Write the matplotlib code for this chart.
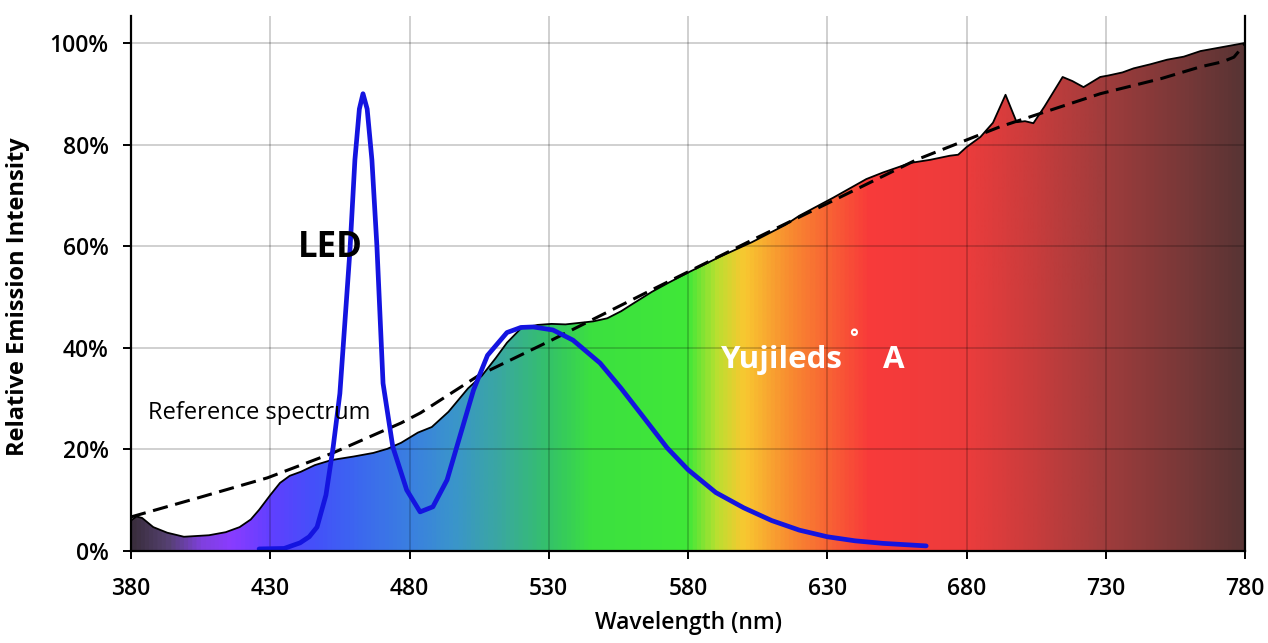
import numpy as np
import matplotlib
matplotlib.use('Agg')
import matplotlib.pyplot as plt
from matplotlib.colors import LinearSegmentedColormap
from matplotlib.patches import Polygon

plt.rcParams['font.family'] = ['Open Sans', 'DejaVu Sans']

# measured spectrum of the lamp (Yujileds A), % relative intensity
spec_nm = [380, 382, 384, 388, 393, 399, 408, 414, 419, 423, 426, 430, 433.5, 437, 441,
           446, 452, 460, 467, 472, 477, 483, 488, 494, 501, 506, 511, 515, 520, 526,
           531, 536, 541, 546, 551, 556, 560, 567, 573, 580, 591, 603, 615, 620, 632,
           644, 650, 660, 667, 674, 677, 680, 685, 689.5, 694, 698, 701, 704, 708,
           714.5, 718, 722, 728, 731, 736, 740, 746, 752, 758, 764, 770, 775, 780]
spec_pct = [6.0, 6.8, 6.5, 4.7, 3.6, 2.8, 3.1, 3.7, 4.7, 6.2, 8.1, 11.0, 13.4, 14.8, 15.6,
            16.9, 17.9, 18.6, 19.3, 20.1, 21.3, 23.3, 24.4, 27.4, 32.0, 34.5, 38.0, 41.0, 43.8, 44.5,
            44.7, 44.6, 44.9, 45.2, 45.8, 47.2, 48.6, 51.0, 52.8, 54.8, 57.8, 60.8, 64.2, 66.0, 69.5,
            73.2, 74.5, 76.4, 77.0, 77.8, 78.0, 79.5, 81.5, 84.3, 89.8, 84.4, 84.6, 84.2, 87.5,
            93.3, 92.5, 91.3, 93.3, 93.6, 94.2, 95.0, 95.8, 96.7, 97.3, 98.4, 99.0, 99.5, 100.0]

# reference spectrum (dashed)
ref_nm = [380, 405, 429, 452.5, 477, 484, 505, 531, 567, 603, 630, 662, 692, 728,
          750, 764, 772, 776, 778, 780]
ref_pct = [6.7, 10.6, 14.4, 19.3, 25.2, 27.2, 34.6, 41.5, 51.4, 61.2, 68.4, 77.0, 83.5, 90.0,
           93.0, 95.3, 96.3, 97.2, 98.5, 99.8]

# typical white LED spectrum
led_nm = [426, 435, 440.7, 444, 446.8, 450, 452.6, 455, 458.6, 460.4, 462, 463.3, 464.8,
          466.5, 468.3, 470.5, 474, 479, 483.8, 488.4, 493.5, 498, 503, 508, 515, 520,
          524.4, 531.5, 538.7, 548.4, 556, 562.8, 572.5, 580, 590, 600, 610, 620, 630,
          640, 650, 665.5]
led_pct = [0.4, 0.5, 1.6, 2.8, 4.7, 11.0, 20.5, 31, 59, 77, 87, 90, 87,
           77, 60, 33, 20.5, 12, 7.7, 8.7, 14, 22.4, 31.7, 38.5, 43, 44,
           44.1, 43.5, 41.5, 37, 32, 27.2, 20.3, 16, 11.5, 8.5, 6, 4.1, 2.8,
           2.0, 1.5, 1.0]

x_ticks = [380, 430, 480, 530, 580, 630, 680, 730, 780]
y_ticks = [0, 20, 40, 60, 80, 100]

# rainbow used for the fill
stops = [(380, '#3a2e3e'), (392, '#54406e'), (405, '#8040e0'), (415, '#8a3cff'),
         (430, '#6040ff'), (445, '#4450fa'), (460, '#3c66f0'), (480, '#3a80e0'),
         (495, '#3a94cc'), (512, '#3aa8a0'), (530, '#34c268'), (545, '#3ce040'),
         (580, '#40e838'), (590, '#b8e030'), (600, '#f8c830'), (615, '#f89030'),
         (630, '#f86434'), (645, '#f83a3a'), (680, '#ec3c3c'), (705, '#c83c3c'),
         (730, '#a03c3c'), (760, '#763838'), (780, '#583434')]
cmap = LinearSegmentedColormap.from_list(
    'spec', [((w - 380) / 400, c) for w, c in stops])

fig = plt.figure(figsize=(12.68, 6.43), dpi=100)
ax = fig.add_axes([0.1033, 0.1431, 0.8786, 0.832])

verts = list(zip(spec_nm, spec_pct)) + [(780, 0), (380, 0)]
patch = Polygon(verts, closed=True, facecolor='none', edgecolor='none')
ax.add_patch(patch)
grad = np.linspace(0, 1, 800).reshape(1, -1)
im = ax.imshow(grad, extent=[380, 780, 0, 105], aspect='auto', cmap=cmap,
               origin='lower', zorder=1)
im.set_clip_path(patch)

ax.plot(spec_nm, spec_pct, color='black', lw=1.3, zorder=3)
ax.plot(ref_nm, ref_pct, color='black', lw=2.2, ls=(0, (5, 2.5)), zorder=4)
ax.plot(led_nm, led_pct, color='#1414e0', lw=3.4, zorder=5,
        solid_capstyle='round', solid_joinstyle='round')

ax.set_xlim(380, 780)
ax.set_ylim(0, 105.3)
ax.set_xticks(x_ticks)
ax.set_yticks(y_ticks)
ax.set_yticklabels([f'{v}%' for v in y_ticks])
ax.grid(True, color='black', alpha=0.2, lw=1.3)
ax.set_axisbelow(False)

for s in ['left', 'bottom', 'right']:
    ax.spines[s].set_linewidth(1.6)
    ax.spines[s].set_zorder(6)
ax.spines['top'].set_visible(False)
ax.tick_params(direction='out', length=6, width=1.4, labelsize=16.5)
ax.tick_params(axis='x', pad=13)
ax.tick_params(axis='y', pad=10)
for lab in ax.get_xticklabels() + ax.get_yticklabels():
    lab.set_fontweight('semibold')

ax.set_xlabel('Wavelength (nm)', fontsize=16.5, fontweight='semibold', labelpad=7)
ax.set_ylabel('Relative Emission Intensity', fontsize=17, fontweight='bold')
ax.yaxis.set_label_coords(-0.0905, 0.475)

ax.text(451.5, 59.6, 'LED', fontsize=25, fontweight='bold', ha='center', va='center',
        zorder=7)
ax.text(386, 27.2, 'Reference spectrum', fontsize=17, ha='left', va='center', zorder=7)
ax.text(591.5, 37.6, 'Yujileds', fontsize=22.5, fontweight='bold', color='white',
        ha='left', va='center', zorder=7)
ax.text(637.8, 41.8, '\u00b0', fontsize=15, fontweight='bold', color='white',
        ha='left', va='center', zorder=7)
ax.text(650.0, 37.6, 'A', fontsize=22.5, fontweight='bold', color='white',
        ha='left', va='center', zorder=7)

fig.savefig('out.png', dpi=100)
